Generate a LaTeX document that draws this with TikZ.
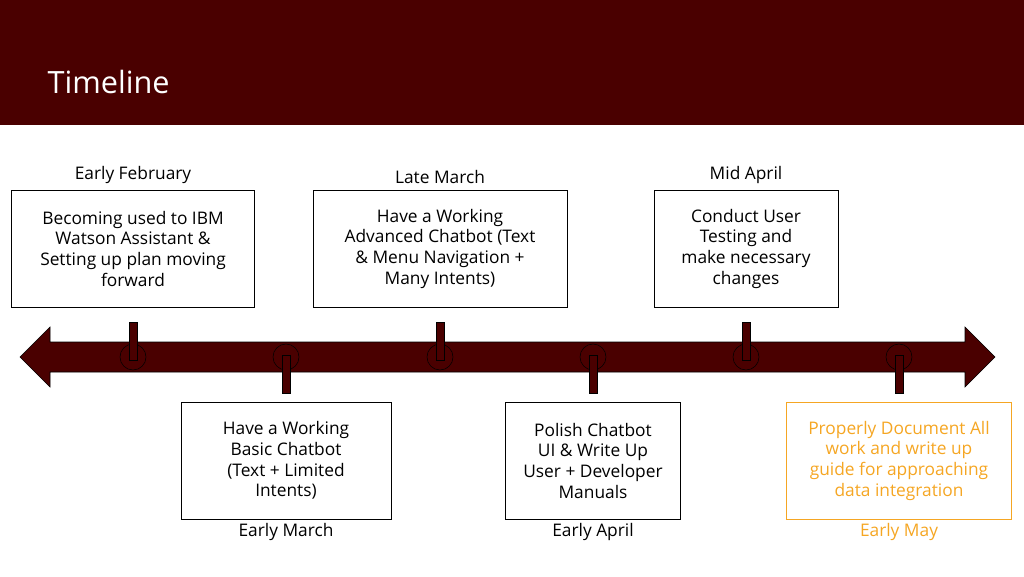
\documentclass[tikz,border=0pt]{standalone}
\usepackage{fontspec}
\setmainfont{Open Sans}
\usetikzlibrary{positioning}
\definecolor{maroon}{HTML}{4A0000}
\definecolor{gold}{HTML}{F5A623}
\tikzset{
  every node/.style={font=\fontsize{13}{15.5}\selectfont},
  event/.style={draw=black, thin, align=center, inner sep=2pt},
  when/.style={inner sep=1pt},
  stem/.style={fill=maroon, draw=black, thin},
  ring/.style={draw=black, thin},
}
\begin{document}
\begin{tikzpicture}[x=0.75pt,y=-0.75pt]
  \useasboundingbox (0,0) rectangle (1024,576);
  % header
  \fill[maroon] (0,0) rectangle (1024,125);
  \node[anchor=west, text=white, font=\fontsize{23}{26}\selectfont] (title) at (43,82) {Timeline};
  % the double arrow
  \filldraw[fill=maroon, draw=black, thin] (20,357) -- (50,327) -- (50,342) -- (965,342) -- (965,327)
     -- (995,357) -- (965,387) -- (965,372) -- (50,372) -- (50,387) -- cycle;
  % events above the line
  \foreach \x/\name/\w/\l/\t in {133/feb/243/Early February/{Becoming used to IBM\\Watson Assistant \&\\Setting up plan moving\\forward},
                               440/latemar/254/Late March/{Have a Working\\Advanced Chatbot (Text\\\& Menu Navigation +\\Many Intents)},
                               746/midapr/184/Mid April/{Conduct User\\Testing and\\make necessary\\changes}}{
    \node[event, minimum width=\w*0.75pt, minimum height=117*0.75pt] (\name) at (\x,248.5) {\t};
    \node[when, above=3pt of \name] (\name-date) {\l};
    \draw[ring] (\x,357) circle (13);
    \filldraw[stem] (\x-4,322) rectangle (\x+4,360);
  }
  % events below the line
  \foreach \x/\name/\w/\l/\t/\c in {286/earlymar/210/Early March/{Have a Working\\Basic Chatbot\\(Text + Limited\\Intents)}/black,
                                 593/earlyapr/175/Early April/{Polish Chatbot\\UI \& Write Up\\User + Developer\\Manuals}/black,
                                 899/may/225/Early May/{Properly Document All\\work and write up\\guide for approaching\\data integration}/gold}{
    \node[event, draw=\c, text=\c, minimum width=\w*0.75pt, minimum height=117*0.75pt] (\name) at (\x,460.5) {\t};
    \node[when, text=\c, below=2pt of \name] (\name-date) {\l};
    \draw[ring] (\x,357) circle (13);
    \filldraw[stem] (\x-4,355) rectangle (\x+4,393);
  }
\end{tikzpicture}
\end{document}
